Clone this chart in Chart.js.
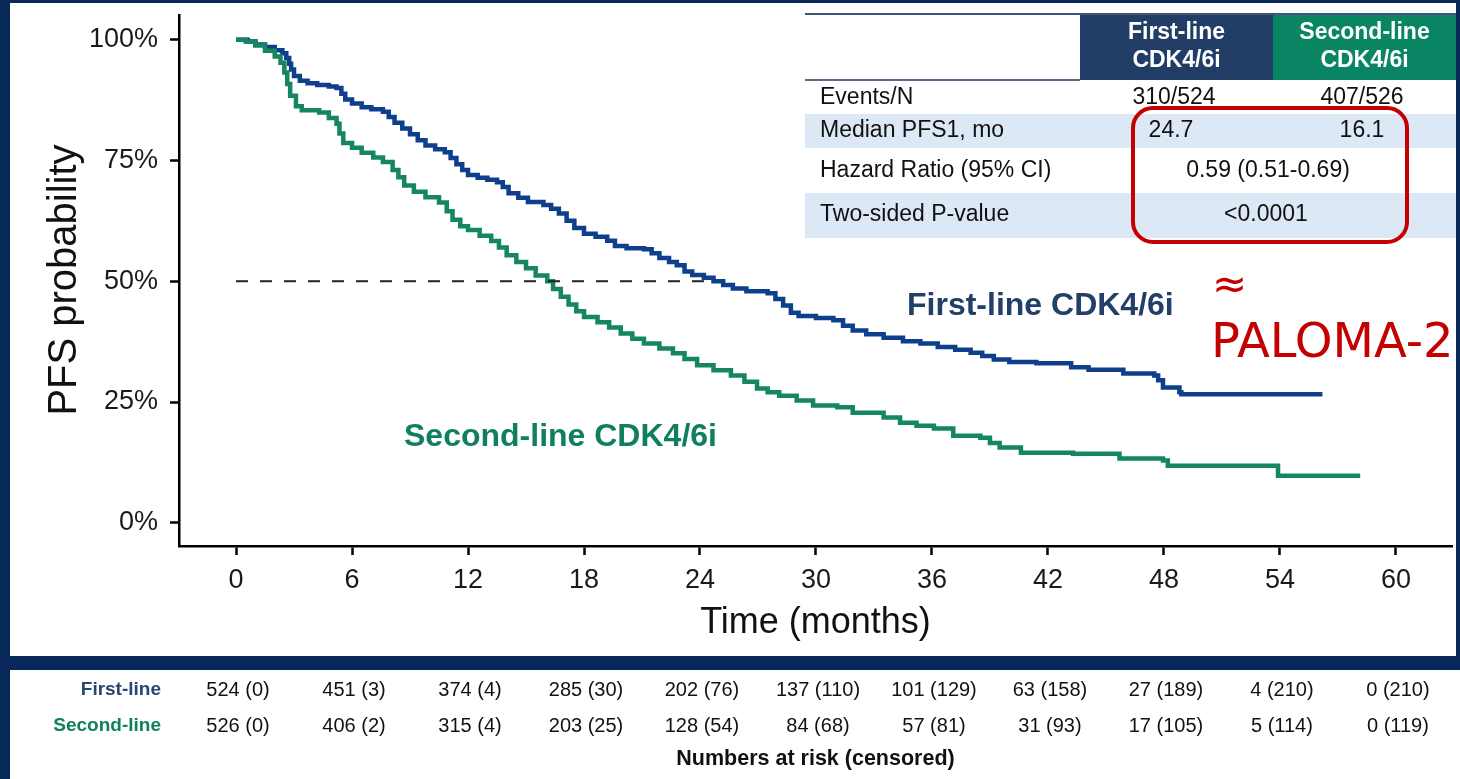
<!DOCTYPE html>
<html>
<head>
<meta charset="utf-8">
<script src="https://cdn.jsdelivr.net/npm/chart.js@4.4.1/dist/chart.umd.min.js"></script>
<style>
  html, body { margin: 0; padding: 0; background: #08285a; }
  canvas { display: block; }
</style>
</head>
<body>
<canvas id="km" width="1460" height="779"></canvas>
<script>
// Kaplan–Meier PFS1 estimates (time in months, survival in %)
const firstLineMonths = [0, 0.6, 1.0, 1.5, 2.0, 2.4, 2.6, 2.75, 2.85, 3.0, 3.3, 3.7, 4.2, 4.8, 5.2, 5.45, 5.65, 6.0, 6.5, 7.0,
  7.6, 7.9, 8.2, 8.6, 9.0, 9.4, 9.8, 10.3, 10.8, 11.1, 11.4, 11.7, 12.0, 12.5, 13.0, 13.5, 13.8, 14.1, 14.6, 15.1,
  15.9, 16.3, 16.7, 17.1, 17.5, 18.0, 18.6, 19.2, 19.6, 20.2, 21.1, 21.5, 21.9, 22.4, 22.8, 23.2, 23.6, 24.2, 24.7, 25.2,
  25.7, 26.4, 27.5, 27.9, 28.3, 28.7, 29.1, 30.0, 30.9, 31.4, 31.9, 32.6, 33.5, 34.5, 35.4, 36.3, 37.2, 38.0, 38.6, 39.2,
  40.0, 41.4, 43.2, 44.1, 45.9, 47.5, 47.7, 47.95, 48.8, 48.9, 56.2];
const firstLinePFS = [100, 99.6, 99.0, 98.5, 97.8, 97.2, 96.2, 95.0, 93.8, 92.5, 91.5, 91.0, 90.6, 90.3, 90.0, 88.8, 87.6, 86.8, 86.0, 85.6,
  85.1, 84.0, 82.8, 81.6, 80.4, 79.2, 78.1, 77.3, 76.7, 75.5, 74.2, 73.0, 72.0, 71.4, 71.0, 70.5, 69.5, 68.2, 67.3, 66.4,
  65.8, 65.0, 64.0, 62.5, 61.0, 59.8, 59.2, 58.4, 57.3, 56.8, 56.6, 55.8, 54.8, 54.0, 53.3, 52.0, 51.3, 50.7, 50.0, 49.2,
  48.5, 47.9, 47.5, 46.3, 45.0, 43.5, 42.8, 42.4, 41.9, 40.8, 39.8, 39.0, 38.3, 37.6, 37.1, 36.4, 35.8, 35.2, 34.5, 33.8,
  33.3, 33.0, 32.2, 31.7, 30.9, 30.5, 29.5, 28.0, 27.0, 26.6, 26.6];

const secondLineMonths = [0, 0.5, 1.0, 1.5, 2.0, 2.3, 2.5, 2.65, 2.8, 3.1, 3.4, 4.3, 4.8, 5.2, 5.35, 5.55, 6.0, 6.5, 7.1, 7.6,
  8.1, 8.4, 8.7, 9.2, 9.8, 10.5, 10.9, 11.2, 11.6, 12.0, 12.6, 13.2, 13.6, 14.0, 14.5, 15.0, 15.5, 16.1, 16.4, 16.8,
  17.2, 17.6, 18.0, 18.7, 19.3, 19.9, 20.5, 21.1, 21.9, 22.6, 23.2, 23.85, 24.7, 25.6, 26.3, 26.95, 27.5, 28.1, 29.0, 29.85,
  31.1, 31.9, 33.5, 34.35, 35.2, 36.1, 37.1, 38.5, 39.0, 39.5, 40.6, 43.3, 45.7, 47.95, 48.2, 53.9, 58.15];
const secondLinePFS = [100, 99.6, 98.8, 97.7, 96.5, 95.2, 93.2, 90.8, 88.4, 86.2, 85.4, 84.9, 83.8, 82.6, 80.6, 78.6, 77.6, 76.6, 75.6, 74.7,
  73.0, 71.5, 69.8, 68.5, 67.4, 66.3, 64.5, 62.7, 61.4, 60.6, 59.4, 58.3, 57.0, 55.4, 54.0, 52.7, 51.2, 50.0, 48.4, 46.8,
  45.2, 43.8, 42.6, 41.5, 40.4, 39.2, 38.1, 37.1, 36.1, 35.1, 33.9, 32.6, 31.6, 30.5, 29.2, 27.8, 27.0, 26.3, 25.3, 24.3,
  23.9, 22.8, 21.8, 20.7, 20.1, 19.5, 18.0, 17.6, 16.5, 15.6, 14.5, 14.3, 13.3, 12.9, 11.8, 9.75, 9.75];

// Medians (months) and summary statistics
const medianPFS = [24.7, 16.1];
const eventsN = ['310/524', '407/526'];
const hazardRatio = '0.59 (0.51-0.69)';
const pValue = '<0.0001';
const groupHeaders = [['First-line', 'CDK4/6i'], ['Second-line', 'CDK4/6i']];
const rowLabels = ['Events/N', 'Median PFS1, mo', 'Hazard Ratio (95% CI)', 'Two-sided P-value'];

// Axis ticks
const monthTicks = [0, 6, 12, 18, 24, 30, 36, 42, 48, 54, 60];
const percentTicks = [0, 25, 50, 75, 100];

// Numbers at risk (censored) at each month tick
const riskFirst = ['524 (0)', '451 (3)', '374 (4)', '285 (30)', '202 (76)', '137 (110)', '101 (129)', '63 (158)', '27 (189)', '4 (210)', '0 (210)'];
const riskSecond = ['526 (0)', '406 (2)', '315 (4)', '203 (25)', '128 (54)', '84 (68)', '57 (81)', '31 (93)', '17 (105)', '5 (114)', '0 (119)'];

const NAVY = '#08285a';
const BLUE = '#0e3f8c';
const GREEN = '#148664';
const RED = '#c40000';
const SANS = '"Liberation Sans", Arial, Helvetica, sans-serif';

const toPoints = (xs, ys) => xs.map((x, i) => ({ x, y: ys[i] }));

function roundRectPath(ctx, x, y, w, h, r) {
  ctx.beginPath();
  ctx.moveTo(x + r, y);
  ctx.lineTo(x + w - r, y);
  ctx.arcTo(x + w, y, x + w, y + r, r);
  ctx.lineTo(x + w, y + h - r);
  ctx.arcTo(x + w, y + h, x + w - r, y + h, r);
  ctx.lineTo(x + r, y + h);
  ctx.arcTo(x, y + h, x, y + h - r, r);
  ctx.lineTo(x, y + r);
  ctx.arcTo(x, y, x + r, y, r);
  ctx.closePath();
}

const slideDecor = {
  id: 'slideDecor',
  beforeDraw(chart) {
    const ctx = chart.ctx;
    ctx.save();
    // frame and panels
    ctx.fillStyle = NAVY;
    ctx.fillRect(0, 0, chart.width, chart.height);
    ctx.fillStyle = '#ffffff';
    ctx.fillRect(10, 3, 1446, 653);
    ctx.fillRect(10, 670, 1450, 109);

    // summary table
    const tL = 805, tR = 1456, c1 = 1080, c2 = 1273;
    ctx.fillStyle = '#dce8f5';
    ctx.fillRect(tL, 114, tR - tL, 34);
    ctx.fillRect(tL, 193, tR - tL, 45);
    ctx.fillStyle = '#223d65';
    ctx.fillRect(c1, 14, c2 - c1, 66);
    ctx.fillStyle = '#0a8564';
    ctx.fillRect(c2, 14, tR - c2, 66);
    ctx.fillStyle = '#3f5479';
    ctx.fillRect(tL, 13, tR - tL, 2);
    ctx.fillStyle = '#5a6d8c';
    ctx.fillRect(tL, 79, c1 - tL, 2);

    ctx.fillStyle = '#ffffff';
    ctx.font = 'bold 23px ' + SANS;
    ctx.textAlign = 'center';
    ctx.textBaseline = 'middle';
    [[c1, c2], [c2, tR]].forEach((span, i) => {
      const cx = (span[0] + span[1]) / 2;
      ctx.fillText(groupHeaders[i][0], cx, 33);
      ctx.fillText(groupHeaders[i][1], cx, 61);
    });

    ctx.fillStyle = '#111111';
    ctx.font = '23px ' + SANS;
    ctx.textAlign = 'left';
    const rowY = [98, 131, 171, 215];
    rowLabels.forEach((t, i) => ctx.fillText(t, 820, rowY[i]));
    ctx.textAlign = 'center';
    ctx.fillText(eventsN[0], 1174, rowY[0]);
    ctx.fillText(eventsN[1], 1362, rowY[0]);
    ctx.fillText(medianPFS[0].toFixed(1), 1171, rowY[1]);
    ctx.fillText(medianPFS[1].toFixed(1), 1362, rowY[1]);
    ctx.fillText(hazardRatio, 1268, rowY[2]);
    ctx.fillText(pValue, 1266, rowY[3]);

    ctx.strokeStyle = RED;
    ctx.lineWidth = 4;
    roundRectPath(ctx, 1133, 108, 274, 134, 20);
    ctx.stroke();

    // PALOMA-2 note
    ctx.fillStyle = RED;
    ctx.textAlign = 'left';
    ctx.textBaseline = 'alphabetic';
    ctx.font = '42px "DejaVu Sans", sans-serif';
    ctx.fillText('\u2248', 1212, 298);
    ctx.font = '48px "DejaVu Sans", sans-serif';
    ctx.fillText('PALOMA-2', 1211, 357);
    ctx.restore();
  },
  afterDraw(chart) {
    const ctx = chart.ctx;
    const xs = chart.scales.x;
    const area = chart.chartArea;
    ctx.save();

    // axis titles
    ctx.fillStyle = '#111111';
    ctx.textAlign = 'center';
    ctx.textBaseline = 'alphabetic';
    ctx.font = '36px ' + SANS;
    ctx.fillText('Time (months)', (area.left + area.right) / 2, 633);
    ctx.save();
    ctx.translate(76, 280);
    ctx.rotate(-Math.PI / 2);
    ctx.font = '40px ' + SANS;
    ctx.fillText('PFS probability', 0, 0);
    ctx.restore();

    // curve labels
    ctx.textAlign = 'left';
    ctx.textBaseline = 'middle';
    ctx.font = 'bold 32px ' + SANS;
    ctx.fillStyle = '#223f6a';
    ctx.fillText('First-line CDK4/6i', 907, 306);
    ctx.fillStyle = '#0f7f5f';
    ctx.fillText('Second-line CDK4/6i', 404, 437);

    // numbers at risk
    ctx.font = 'bold 19px ' + SANS;
    ctx.textAlign = 'right';
    ctx.fillStyle = '#2a4675';
    ctx.fillText('First-line', 161, 690);
    ctx.fillStyle = '#0f7f5f';
    ctx.fillText('Second-line', 161, 726);
    ctx.font = '20px ' + SANS;
    ctx.fillStyle = '#111111';
    ctx.textAlign = 'center';
    monthTicks.forEach((m, i) => {
      const px = xs.getPixelForValue(m) + 2;
      ctx.fillText(riskFirst[i], px, 690);
      ctx.fillText(riskSecond[i], px, 726);
    });
    ctx.font = 'bold 21.5px ' + SANS;
    ctx.fillText('Numbers at risk (censored)', (area.left + area.right) / 2, 759);
    ctx.restore();
  }
};

new Chart(document.getElementById('km'), {
  type: 'line',
  data: {
    datasets: [
      {
        label: 'Median',
        data: [{ x: 0, y: 50 }, { x: medianPFS[0], y: 50 }],
        borderColor: '#222222',
        borderWidth: 2,
        borderDash: [12, 12],
        pointRadius: 0
      },
      {
        label: 'Second-line CDK4/6i',
        data: toPoints(secondLineMonths, secondLinePFS),
        borderColor: GREEN,
        borderWidth: 4.5,
        stepped: true,
        pointRadius: 0
      },
      {
        label: 'First-line CDK4/6i',
        data: toPoints(firstLineMonths, firstLinePFS),
        borderColor: BLUE,
        borderWidth: 4.5,
        stepped: true,
        pointRadius: 0
      }
    ]
  },
  options: {
    responsive: false,
    animation: false,
    devicePixelRatio: 1,
    layout: { padding: { left: 0, right: 8, top: 15, bottom: 133 } },
    plugins: { legend: { display: false }, tooltip: { enabled: false } },
    scales: {
      x: {
        type: 'linear',
        min: -2.95,
        max: 62.9,
        afterBuildTicks: (axis) => { axis.ticks = monthTicks.map(v => ({ value: v })); },
        afterFit: (axis) => { axis.height = 100; axis.paddingLeft = 0; axis.paddingRight = 0; },
        grid: { drawOnChartArea: false, drawTicks: true, tickLength: 9, tickColor: '#000', tickWidth: 2.5 },
        border: { display: true, color: '#000', width: 2.5 },
        ticks: { color: '#1a1a1a', font: { family: SANS, size: 27 }, padding: 9, maxRotation: 0 }
      },
      y: {
        type: 'linear',
        min: -4.8,
        max: 105.1,
        afterBuildTicks: (axis) => { axis.ticks = percentTicks.map(v => ({ value: v })); },
        afterFit: (axis) => { axis.width = 179; axis.paddingTop = 0; axis.paddingBottom = 0; },
        grid: { drawOnChartArea: false, drawTicks: true, tickLength: 9, tickColor: '#000', tickWidth: 2.5 },
        border: { display: true, color: '#000', width: 2.5 },
        ticks: { color: '#1a1a1a', font: { family: SANS, size: 27 }, padding: 12, callback: v => v + '%' }
      }
    }
  },
  plugins: [slideDecor]
});
</script>
</body>
</html>
